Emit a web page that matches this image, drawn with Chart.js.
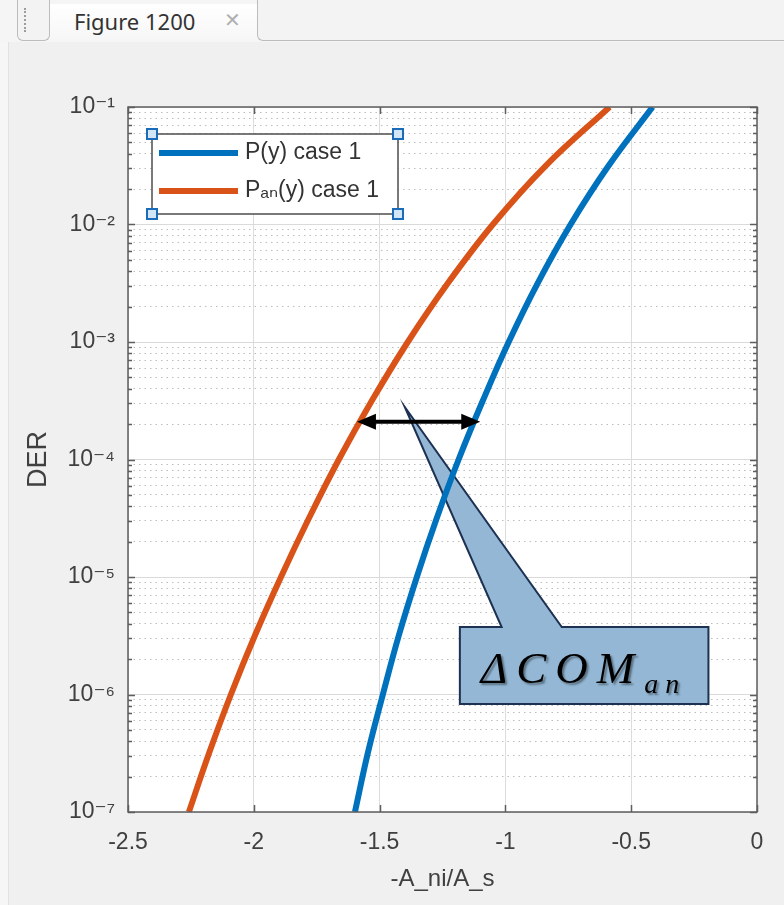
<!DOCTYPE html>
<html lang="en">
<head>
  <meta charset="UTF-8">
  <title>Figure 1200</title>
  <style>
    html, body { margin: 0; padding: 0; }
    body {
      width: 784px; height: 905px; overflow: hidden; position: relative;
      background: #f0f0f0; font-family: "Noto Sans", sans-serif;
    }
    #topbar { position: absolute; left: 0; top: 0; width: 784px; height: 42px; background: #f5f5f5; z-index: 2; }
    #grip {
      position: absolute; left: 17px; top: -6px; width: 31px; height: 46px;
      border: 1.5px solid #bcbcbc; border-top: none; border-radius: 0 0 6px 6px; background: #f3f3f3;
    }
    #grip span { position: absolute; left: 6px; top: 14px; height: 24px; border-left: 2px dotted #9c9c9c; }
    #tab {
      position: absolute; left: 50px; top: 4px; width: 207px; height: 38px;
      background: linear-gradient(#ffffff, #f6f6f6);
    }
    #tab .name { position: absolute; left: 24px; top: 2px; font-size: 22px; color: #333; }
    #tab .close { position: absolute; left: 174px; top: 4px; font-size: 20px; color: #b0b0b0; font-family: "DejaVu Sans", sans-serif; font-weight: bold; }
    #rest {
      position: absolute; left: 257px; top: -6px; width: 540px; height: 46px;
      border-left: 1.5px solid #bcbcbc; border-bottom: 1.5px solid #bcbcbc;
      border-bottom-left-radius: 6px; background: #f3f3f3;
    }
    #edge { position: absolute; left: 0; top: 42px; width: 8px; height: 863px; background: #f6f6f6; border-right: 1px solid #e2e2e2; }
    #plot { position: absolute; left: 0; top: 0; }
  </style>
</head>
<body>

  <div id="topbar">
    <div id="grip"><span></span></div>
    <div id="tab"><span class="name">Figure 1200</span><span class="close">✕</span></div>
    <div id="rest"></div>
  </div>
  <div id="edge"></div>

  <canvas id="plot" width="784" height="905"></canvas>

  <script src="https://cdn.jsdelivr.net/npm/chart.js"></script>
  <script>
    // ---- data ----
    const xTickValues = [-2.5, -2, -1.5, -1, -0.5, 0];
    const yDecades = [1e-7, 1e-6, 1e-5, 1e-4, 1e-3, 1e-2, 1e-1];

    // DER levels where both curves were read (decades and half decades)
    const derLevels = [1e-7, 3.16e-7, 1e-6, 3.16e-6, 1e-5, 3.16e-5, 1e-4, 3.16e-4, 1e-3, 3.16e-3, 1e-2, 3.16e-2, 1e-1];

    const blueLabel = 'P(y) case 1';
    const blueX = [-1.598, -1.547, -1.487, -1.424, -1.352, -1.273, -1.186, -1.090, -0.987, -0.872, -0.741, -0.590, -0.415];

    const orangeLabel = 'Pₐₙ(y) case 1';
    const orangeX = [-2.258, -2.178, -2.091, -1.996, -1.892, -1.781, -1.662, -1.531, -1.388, -1.229, -1.050, -0.840, -0.586];

    // annotation, in data units
    const arrowDER = 2.1e-4;
    const arrowX = [-1.590, -1.100];
    const calloutText = 'ΔCOM';
    const calloutSub = 'an';
    const calloutBoxX = [-1.181, -0.193];
    const calloutBoxDER = [3.75e-6, 8.3e-7];
    const calloutBaseX = [-1.015, -0.776];
    const calloutTip = { x: -1.400, y: 2.8e-4 };

    const FONT = '"Liberation Sans", "DejaVu Sans", Arial, sans-serif';
    const TEXT = '#404040';
    const BLUE = '#0072bd';
    const ORANGE = '#d95319';

    const isDecade = v => Math.abs(Math.log10(v) - Math.round(Math.log10(v))) < 1e-9;
    const supMap = { '-': '⁻', '0': '⁰', '1': '¹', '2': '²', '3': '³', '4': '⁴', '5': '⁵', '6': '⁶', '7': '⁷', '8': '⁸', '9': '⁹' };
    const decadeLabel = v => '10' + String(Math.round(Math.log10(v))).split('').map(c => supMap[c]).join('');

    // log ticks 1..9 in every decade
    const yTickValues = [];
    yDecades.forEach((d, i) => {
      if (i === yDecades.length - 1) { yTickValues.push(d); return; }
      for (let m = 1; m <= 9; m++) yTickValues.push(Number((m * d).toPrecision(3)));
    });

    const toPoints = (xs, ys) => xs.map((x, i) => ({ x, y: ys[i] }));

    // white plot background, box frame and inward ticks like matlab
    const matlabAxes = {
      id: 'matlabAxes',
      beforeDraw(chart) {
        const { ctx, chartArea: a } = chart;
        ctx.save();
        ctx.fillStyle = '#ffffff';
        ctx.fillRect(a.left, a.top, a.right - a.left, a.bottom - a.top);
        ctx.restore();
      },
      afterDatasetsDraw(chart) {
        const { ctx, chartArea: a, scales } = chart;
        ctx.save();
        ctx.strokeStyle = '#5e5e5e';
        ctx.lineWidth = 1.5;
        ctx.beginPath();
        scales.y.ticks.forEach(t => {
          const py = Math.round(scales.y.getPixelForValue(t.value)) + 0.5;
          const len = isDecade(t.value) ? 7 : 4;
          ctx.moveTo(a.left, py); ctx.lineTo(a.left + len, py);
          ctx.moveTo(a.right, py); ctx.lineTo(a.right - len, py);
        });
        scales.x.ticks.forEach(t => {
          const px = Math.round(scales.x.getPixelForValue(t.value)) + 0.5;
          ctx.moveTo(px, a.bottom); ctx.lineTo(px, a.bottom - 7);
          ctx.moveTo(px, a.top); ctx.lineTo(px, a.top + 7);
        });
        ctx.stroke();
        ctx.strokeRect(a.left, a.top, a.right - a.left, a.bottom - a.top);
        ctx.restore();
      }
    };

    // the callout shape sits under the curves
    const callout = {
      id: 'callout',
      beforeDatasetsDraw(chart) {
        const { ctx, scales: { x, y } } = chart;
        const L = x.getPixelForValue(calloutBoxX[0]), R = x.getPixelForValue(calloutBoxX[1]);
        const T = y.getPixelForValue(calloutBoxDER[0]), B = y.getPixelForValue(calloutBoxDER[1]);
        const b1 = x.getPixelForValue(calloutBaseX[0]), b2 = x.getPixelForValue(calloutBaseX[1]);
        const tx = x.getPixelForValue(calloutTip.x), ty = y.getPixelForValue(calloutTip.y);
        ctx.save();
        ctx.beginPath();
        ctx.moveTo(L, T); ctx.lineTo(b1, T); ctx.lineTo(tx, ty); ctx.lineTo(b2, T);
        ctx.lineTo(R, T); ctx.lineTo(R, B); ctx.lineTo(L, B); ctx.closePath();
        ctx.fillStyle = '#93b7d4';
        ctx.fill();
        ctx.strokeStyle = '#1d3153';
        ctx.lineWidth = 2;
        ctx.lineJoin = 'miter';
        ctx.stroke();

        ctx.shadowColor = 'rgba(0,0,0,0.4)';
        ctx.shadowOffsetX = 2; ctx.shadowOffsetY = 2; ctx.shadowBlur = 2;
        ctx.fillStyle = '#000000';
        ctx.textBaseline = 'alphabetic';
        ctx.textAlign = 'left';
        ctx.font = 'italic 45px "Liberation Serif", "DejaVu Serif", serif';
        ctx.letterSpacing = '9px';
        ctx.fillText(calloutText, L + 21, T + 56);
        const w = ctx.measureText(calloutText).width;
        ctx.font = 'italic 28px "Liberation Serif", "DejaVu Serif", serif';
        ctx.letterSpacing = '7px';
        ctx.fillText(calloutSub, L + 21 + w + 1, T + 66);
        ctx.restore();
      }
    };

    // double arrow and legend on top
    const overlay = {
      id: 'overlay',
      afterDraw(chart) {
        const { ctx, chartArea: a, scales: { x, y } } = chart;
        ctx.save();

        // double-headed arrow
        const ay = y.getPixelForValue(arrowDER);
        const x1 = x.getPixelForValue(arrowX[0]), x2 = x.getPixelForValue(arrowX[1]);
        const head = 19, half = 8;
        ctx.fillStyle = '#000';
        ctx.strokeStyle = '#000';
        ctx.lineWidth = 4;
        ctx.beginPath(); ctx.moveTo(x1 + head - 2, ay); ctx.lineTo(x2 - head + 2, ay); ctx.stroke();
        ctx.beginPath(); ctx.moveTo(x1, ay); ctx.lineTo(x1 + head, ay - half); ctx.lineTo(x1 + head, ay + half); ctx.closePath(); ctx.fill();
        ctx.beginPath(); ctx.moveTo(x2, ay); ctx.lineTo(x2 - head, ay - half); ctx.lineTo(x2 - head, ay + half); ctx.closePath(); ctx.fill();

        // legend box
        const bx = a.left + 24, by = a.top + 27, bw = 246, bh = 80;
        ctx.fillStyle = '#ffffff';
        ctx.fillRect(bx, by, bw, bh);
        ctx.strokeStyle = '#4d4d4d';
        ctx.lineWidth = 1.5;
        ctx.strokeRect(bx, by, bw, bh);
        const rows = [by + 19, by + 57];
        chart.data.datasets.forEach((ds, i) => {
          ctx.strokeStyle = ds.borderColor;
          ctx.lineWidth = 6;
          ctx.beginPath(); ctx.moveTo(bx + 7, rows[i]); ctx.lineTo(bx + 86, rows[i]); ctx.stroke();
          ctx.fillStyle = '#333333';
          ctx.font = '23px ' + FONT;
          ctx.textBaseline = 'middle';
          ctx.fillText(ds.label, bx + 93, rows[i]);
        });
        // selection handles
        [[bx, by], [bx + bw, by], [bx, by + bh], [bx + bw, by + bh]].forEach(([hx, hy]) => {
          ctx.fillStyle = '#d3e6f7';
          ctx.fillRect(hx - 5, hy - 5, 10, 10);
          ctx.strokeStyle = '#1b6cb8';
          ctx.lineWidth = 2;
          ctx.strokeRect(hx - 5, hy - 5, 10, 10);
        });
        ctx.restore();
      }
    };

    new Chart(document.getElementById('plot').getContext('2d'), {
      type: 'line',
      data: {
        datasets: [
          {
            label: blueLabel,
            data: toPoints(blueX, derLevels),
            borderColor: BLUE,
            borderWidth: 6,
            pointRadius: 0,
            tension: 0.4,
            fill: false
          },
          {
            label: orangeLabel,
            data: toPoints(orangeX, derLevels),
            borderColor: ORANGE,
            borderWidth: 6,
            pointRadius: 0,
            tension: 0.4,
            fill: false
          }
        ]
      },
      options: {
        responsive: false,
        animation: false,
        events: [],
        layout: { padding: { left: 0, right: 27, top: 107, bottom: 0 } },
        plugins: { legend: { display: false }, tooltip: { enabled: false } },
        scales: {
          x: {
            type: 'linear',
            min: -2.5,
            max: 0,
            afterBuildTicks: s => { s.ticks = xTickValues.map(v => ({ value: v })); },
            afterFit: s => { s.height = 93; },
            border: { display: false },
            grid: { color: '#dcdcdc', lineWidth: 1, drawTicks: false },
            ticks: {
              padding: 17, color: TEXT, autoSkip: false, maxRotation: 0,
              font: { family: FONT, size: 23 },
              callback: v => String(v)
            },
            title: {
              display: true, text: '-A_ni/A_s', color: TEXT,
              font: { family: FONT, size: 24 },
              padding: { top: 0, bottom: 11 }
            }
          },
          y: {
            type: 'logarithmic',
            min: 1e-7,
            max: 1e-1,
            afterBuildTicks: s => { s.ticks = yTickValues.map(v => ({ value: v })); },
            afterFit: s => { s.width = 128; },
            border: {
              display: false,
              dash: c => (c.tick && !isDecade(c.tick.value)) ? [1.5, 4] : []
            },
            grid: {
              drawTicks: false,
              lineWidth: 1,
              color: c => (c.tick && isDecade(c.tick.value)) ? '#dadada' : '#bdbdbd'
            },
            ticks: {
              padding: 13, color: TEXT, autoSkip: false,
              font: { family: FONT, size: 23 },
              callback: v => isDecade(v) ? decadeLabel(v) : ''
            },
            title: {
              display: true, text: 'DER', color: TEXT,
              font: { family: FONT, size: 27 },
              padding: { top: 22, bottom: 4 }
            }
          }
        }
      },
      plugins: [matlabAxes, callout, overlay]
    });
  </script>
</body>
</html>
